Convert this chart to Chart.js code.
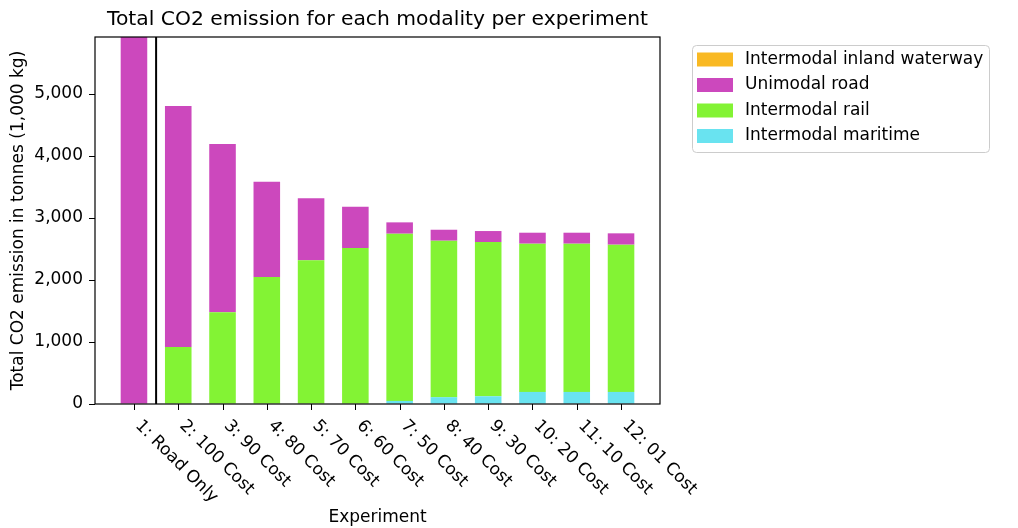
<!DOCTYPE html>
<html>
<head>
<meta charset="utf-8">
<script src="https://cdn.jsdelivr.net/npm/chart.js@4"></script>
<style>
  html, body { margin: 0; padding: 0; background: #fff; }
  #wrap { width: 1018px; height: 528px; }
</style>
</head>
<body>
<div id="wrap"><canvas id="co2Chart" width="1018" height="528"></canvas></div>
<script>
// ===== DATOS =====
const experiments = ['1: Road Only', '2: 100 Cost', '3: 90 Cost', '4: 80 Cost', '5: 70 Cost', '6: 60 Cost',
    '7: 50 Cost', '8: 40 Cost', '9: 30 Cost', '10: 20 Cost', '11: 10 Cost', '12: 01 Cost'];
const maritime = [0, 0, 0, 0, 0, 0, 50, 110, 125, 195, 195, 195];
const rail = [0, 919, 1478, 2048, 2318, 2516, 2697, 2524, 2488, 2391, 2391, 2375];
const road = [6200, 3887, 2716, 1538, 1002, 667, 183, 177, 177, 177, 177, 183];
const waterway = [0, 0, 0, 0, 0, 0, 0, 0, 0, 0, 0, 0];
const yTicks = [0, 1000, 2000, 3000, 4000, 5000];

const FONT = "'DejaVu Sans', sans-serif";
const FS = 17;

function toPoints(arr) {
    return arr.map(function (v, i) { return { x: i, y: v }; });
}

// ===== PLUGIN: marco, línea vertical, textos y leyenda =====
const decorPlugin = {
    id: 'decor',
    afterDatasetsDraw: function (chart) {
        const ctx = chart.ctx;
        const area = chart.chartArea;
        const xs = chart.scales.x;

        // línea vertical entre el experimento 1 y 2
        const lx = xs.getPixelForValue(0.5);
        ctx.save();
        ctx.strokeStyle = '#000';
        ctx.lineWidth = 2;
        ctx.beginPath();
        ctx.moveTo(lx, area.top);
        ctx.lineTo(lx, area.bottom);
        ctx.stroke();

        // marco de ejes
        ctx.lineWidth = 1.2;
        ctx.strokeRect(area.left, area.top, area.right - area.left, area.bottom - area.top);

        // marcas del eje x
        ctx.lineWidth = 1;
        experiments.forEach(function (label, i) {
            const px = Math.round(xs.getPixelForValue(i)) + 0.5;
            ctx.beginPath();
            ctx.moveTo(px, area.bottom);
            ctx.lineTo(px, area.bottom + 6);
            ctx.stroke();
        });

        // etiquetas rotadas del eje x
        ctx.fillStyle = '#000';
        ctx.font = FS + 'px ' + FONT;
        ctx.textAlign = 'left';
        ctx.textBaseline = 'middle';
        experiments.forEach(function (label, i) {
            const px = xs.getPixelForValue(i);
            ctx.save();
            ctx.translate(px + 4, area.bottom + 19);
            ctx.rotate(Math.PI / 4);
            ctx.fillText(label, 0, 0);
            ctx.restore();
        });

        // títulos
        const cx = (area.left + area.right) / 2;
        ctx.textAlign = 'center';
        ctx.font = '20.3px ' + FONT;
        ctx.fillText('Total CO2 emission for each modality per experiment', cx, 20);
        ctx.font = FS + 'px ' + FONT;
        ctx.fillText('Experiment', cx, 518);
        ctx.save();
        ctx.translate(19, (area.top + area.bottom) / 2);
        ctx.rotate(-Math.PI / 2);
        ctx.fillText('Total CO2 emission in tonnes (1,000 kg)', 0, 0);
        ctx.restore();

        // leyenda
        const lgX = 692, lgY = 45, lgW = 297, lgH = 107;
        ctx.strokeStyle = '#cccccc';
        ctx.lineWidth = 1;
        ctx.beginPath();
        ctx.roundRect(lgX + 0.5, lgY + 0.5, lgW, lgH, 4);
        ctx.fillStyle = 'rgba(255,255,255,0.8)';
        ctx.fill();
        ctx.stroke();
        const order = chart.data.datasets.slice().reverse();
        ctx.textAlign = 'left';
        ctx.font = FS + 'px ' + FONT;
        order.forEach(function (ds, k) {
            const rowY = 59.5 + k * 25.5;
            ctx.fillStyle = ds.backgroundColor;
            ctx.fillRect(697, rowY - 7, 36, 14);
            ctx.fillStyle = '#000';
            ctx.fillText(ds.label, 745, rowY);
        });
        ctx.restore();
    }
};

new Chart(document.getElementById('co2Chart'), {
    type: 'bar',
    data: {
        datasets: [
            { label: 'Intermodal maritime', data: toPoints(maritime), backgroundColor: '#69e3f0' },
            { label: 'Intermodal rail', data: toPoints(rail), backgroundColor: '#83f334' },
            { label: 'Unimodal road', data: toPoints(road), backgroundColor: '#cc48bd' },
            { label: 'Intermodal inland waterway', data: toPoints(waterway), backgroundColor: '#f9b923' }
        ]
    },
    options: {
        responsive: false,
        animation: false,
        devicePixelRatio: 1,
        barPercentage: 0.6,
        categoryPercentage: 1.0,
        layout: { padding: { left: 0, top: 37, right: 358, bottom: 0 } },
        plugins: {
            legend: { display: false },
            tooltip: { enabled: false }
        },
        scales: {
            x: {
                type: 'linear',
                stacked: true,
                min: -0.88,
                max: 11.88,
                offset: false,
                grid: { display: false },
                border: { display: false },
                ticks: { display: false },
                afterFit: function (scale) { scale.height = 124; }
            },
            y: {
                stacked: true,
                min: 0,
                max: 5920,
                grid: { drawOnChartArea: false, drawTicks: true, tickLength: 6, color: '#000' },
                border: { display: false },
                ticks: {
                    color: '#000',
                    padding: 6,
                    font: { family: FONT, size: FS },
                    callback: function (value) { return value.toLocaleString('en-US'); }
                },
                afterBuildTicks: function (scale) {
                    scale.ticks = yTicks.map(function (v) { return { value: v }; });
                },
                afterFit: function (scale) { scale.width = 95; }
            }
        }
    },
    plugins: [decorPlugin]
});
</script>
</body>
</html>
